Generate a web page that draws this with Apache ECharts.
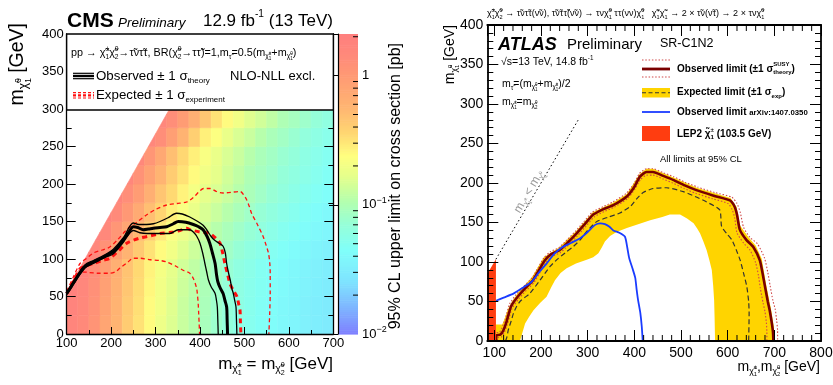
<!DOCTYPE html>
<html>
<head>
<meta charset="utf-8">
<script src="https://cdn.jsdelivr.net/npm/echarts@6.0.0/dist/echarts.min.js"></script>
<style>html,body{margin:0;padding:0;background:#fff;}#chart{width:833px;height:385px;}</style>
</head>
<body>
<div id="chart"></div>
<script>
// ================= CMS (left) data =================
const cmsCellXEdges = [100,125,150,175,200,225,250,275,300,325,350,375,400,425,450,475,500,525,550,575,600,625,650,675];
const cmsCellYEdges = [0,25,50,75,100,125,150,175,200,225,250,275];
const cmsCellSize = 25;
const cmsDiagAt100 = 57, cmsDiagSlope = 1.05;   // upper edge of the scanned region
const _ = null;
// 95% CL upper limit on cross section [pb], one row per mLSP bin
const xsecRow0  = [1.7,1.45,1.15,0.8,0.58,0.42,0.32,0.25,0.19,0.155,0.13,0.11,0.092,0.078,0.067,0.058,0.052,0.047,0.043,0.04,0.037,0.034,0.032,0.03];
const xsecRow1  = [1.8,1.5,1.2,0.84,0.6,0.43,0.33,0.25,0.2,0.16,0.13,0.11,0.094,0.08,0.068,0.06,0.053,0.048,0.044,0.04,0.037,0.034,0.032,0.03];
const xsecRow2  = [1.9,1.6,1.25,0.88,0.62,0.45,0.34,0.26,0.2,0.165,0.135,0.115,0.097,0.082,0.07,0.061,0.054,0.049,0.045,0.041,0.038,0.035,0.033,0.031];
const xsecRow3  = [2.0,1.7,1.3,0.92,0.65,0.47,0.35,0.27,0.21,0.17,0.14,0.12,0.1,0.085,0.073,0.063,0.056,0.05,0.046,0.042,0.039,0.036,0.034,0.032];
const xsecRow4  = [_,2.0,1.6,1.2,0.85,0.6,0.43,0.32,0.25,0.2,0.16,0.135,0.115,0.097,0.083,0.072,0.063,0.056,0.05,0.046,0.042,0.039,0.036,0.034];
const xsecRow5  = [_,_,1.9,1.5,1.1,0.78,0.55,0.4,0.3,0.23,0.19,0.16,0.13,0.11,0.095,0.082,0.072,0.064,0.057,0.051,0.047,0.043,0.04,0.037];
const xsecRow6  = [_,_,_,1.8,1.4,1.05,0.72,0.5,0.37,0.28,0.22,0.18,0.15,0.13,0.11,0.095,0.082,0.072,0.064,0.057,0.052,0.047,0.043,0.04];
const xsecRow7  = [_,_,_,_,1.7,1.3,0.95,0.65,0.46,0.35,0.27,0.21,0.17,0.15,0.13,0.11,0.095,0.083,0.073,0.065,0.058,0.052,0.048,0.044];
const xsecRow8  = [_,_,_,_,_,1.6,1.2,0.85,0.58,0.42,0.32,0.25,0.2,0.17,0.14,0.12,0.1,0.09,0.08,0.07,0.063,0.057,0.052,0.047];
const xsecRow9  = [_,_,_,_,_,_,1.5,1.1,0.75,0.5,0.36,0.28,0.22,0.18,0.15,0.13,0.11,0.095,0.085,0.075,0.068,0.06,0.055,0.05];
const xsecRow10 = [_,_,_,_,_,_,_,1.6,1.3,0.9,0.6,0.4,0.28,0.23,0.18,0.15,0.13,0.11,0.095,0.085,0.075,0.066,0.06,0.055];
const xsecRow11 = [_,_,_,_,_,_,_,_,1.6,1.3,0.95,0.65,0.45,0.32,0.25,0.2,0.16,0.14,0.12,0.1,0.09,0.08,0.07,0.063];
const xsecRows = [xsecRow0,xsecRow1,xsecRow2,xsecRow3,xsecRow4,xsecRow5,xsecRow6,xsecRow7,xsecRow8,xsecRow9,xsecRow10,xsecRow11];

const cmsObs = [[100,54],[108,61],[115,68],[128,80],[141,90],[160,96],[178,101],[190,105],[205,110],[216,117],[227,125],[240,136],[250,143],[260,142],[272,139],[284,140],[295,141],[310,142],[325,143],[340,147],[351,150],[368,149],[385,146],[397,143],[407,139],[416,130],[422,121],[428,108],[434,94],[437,80],[440,70],[445,62],[452,54],[456,45],[460,36],[461,20],[462,0]];
const cmsObsUp = [[100,56],[115,70],[141,92],[160,98],[190,107],[205,113],[227,128],[250,148],[262,146],[280,146],[295,147],[310,150],[328,155],[347,161],[360,160],[377,156],[395,150],[407,145],[415,139],[425,130],[433,125],[443,121],[452,117],[457,108],[460,94],[464,82],[468,72],[472,60],[475,54],[478,45],[481,36],[482,20],[483,0]];
const cmsObsDown = [[100,52],[115,66],[141,88],[160,94],[190,103],[205,107],[227,122],[250,138],[265,135],[280,134],[300,134],[332,134],[351,139],[365,139],[377,139],[385,136],[393,130],[400,121],[406,108],[411,94],[415,83],[419,72],[425,63],[434,54],[437,45],[439,36],[440,20],[441,0]];
const cmsExp = [[100,54],[115,70],[130,87],[145,91],[160,94],[180,98],[197,101],[215,110],[235,121],[250,125],[265,128],[290,131],[310,134],[340,136],[355,138],[370,141],[378,139],[400,136],[422,134],[435,128],[445,121],[451,108],[456,94],[462,80],[467,68],[475,58],[483,50],[487,40],[490,32],[491,15],[492,0]];
const cmsExpUp = [[100,57],[115,76],[130,94],[145,101],[160,108],[180,112],[197,116],[215,126],[235,139],[258,149],[280,159],[300,166],[325,172],[348,174],[370,176],[385,182],[400,191],[408,194],[423,194],[437,190],[452,188],[470,189],[490,190],[500,184],[505,179],[511,170],[516,161],[530,145],[542,130],[549,118],[554,108],[557,95],[558,81],[558,54],[557,30],[555,0]];
const cmsExpDown = [[100,54],[110,66],[120,76],[134,83],[150,82],[170,81],[197,81],[210,83],[220,88],[238,96],[250,101],[265,101],[288,99],[310,98],[325,96],[347,90],[362,85],[377,81],[385,74],[392,62],[394,54],[396,40],[397,28],[398,15],[399,0]];
const colorbarMin = 0.01, colorbarMax = 2.1;
const colorbarMinorTicks = [0.02,0.03,0.04,0.05,0.06,0.07,0.08,0.09,0.2,0.3,0.4,0.5,0.6,0.7,0.8,0.9,2];

// ================= ATLAS (right) data =================
const atlasXMin = 85, atlasXMax = 800;
const lepLimit = 103.5;
const diagEnd = 282;
const atlasMinorX = [120,140,160,180,220,240,260,280,320,340,360,380,420,440,460,480,520,540,560,580,620,640,660,680,720,740,760,780];
const atlasObs = [[104,0],[104,7],[113,8],[119,13],[126,24],[136,44],[150,56],[165,66],[183,77],[196,90],[208,102],[222,110],[240,115],[258,125],[276,136],[294,148],[312,160],[334,167],[355,172],[384,183],[400,195],[412,208],[426,214],[440,214],[462,209],[483,204],[508,197],[533,191],[570,184],[605,178],[615,170],[620,160],[626,141],[640,128],[655,119],[669,102],[675,85],[680,69],[686,50],[690,39],[694,25],[697,12],[698,0]];
const atlasObsUp = [[101,0],[101,10],[111,11],[116,16],[123,27],[133,47],[147,59],[163,69],[181,80],[194,93],[206,105],[220,113],[238,118],[256,128],[274,139],[292,151],[310,163],[333,170],[354,176],[383,187],[399,199],[411,212],[426,218],[440,218],[462,213],[484,208],[509,201],[535,195],[572,188],[609,182],[620,174],[627,163],[634,144],[648,131],[664,123],[679,105],[686,87],[691,70],[697,51],[702,40],[705,26],[707,13],[707,0]];
const atlasObsDown = [[107,0],[107,4],[115,5],[121,10],[128,21],[138,41],[152,53],[167,63],[185,74],[198,87],[210,99],[224,107],[242,112],[260,122],[278,133],[296,145],[314,157],[336,164],[356,169],[385,180],[401,192],[413,204],[426,210],[440,210],[462,205],[482,200],[507,193],[531,187],[568,180],[601,174],[610,166],[615,156],[620,137],[634,124],[648,115],[660,99],[666,83],[670,67],[676,48],[680,37],[683,23],[684,11],[684,0]];
const atlasExp = [[124,0],[127,5],[130,14],[136,25],[141,35],[148,44],[155,50],[165,55],[176,60],[198,77],[219,94],[236,104],[255,113],[270,120],[284,128],[300,140],[319,151],[345,157],[369,162],[391,170],[405,180],[419,188],[440,193],[469,194],[505,189],[530,183],[555,176],[583,166],[587,145],[598,136],[609,128],[618,116],[627,102],[634,86],[641,69],[645,50],[646,35],[645,0]];
const atlasBandOuter = [[103.5,0],[103.5,21],[117,21],[122,28],[129,40],[139,51],[152,62],[181,81],[206,106],[238,118],[275,139],[311,163],[354,175],[384,186],[411,211],[426,218],[440,218],[484,207],[534,194],[606,181],[619,170],[627,146],[645,131],[660,121],[673,104],[683,70],[693,40],[699,18],[700,0]];
const atlasBandInner = [[155,0],[160,10],[166,22],[175,31],[184,39],[198,48],[212,56],[222,68],[230,77],[242,86],[255,92],[275,98],[298,103],[312,106],[323,111],[330,118],[337,126],[348,133],[362,138],[384,143],[405,147],[434,153],[460,157],[476,160],[498,160],[513,155],[527,149],[535,142],[541,136],[548,126],[555,115],[561,102],[566,90],[569,70],[571,52],[572,30],[573,0]];
const atlasRun1 = [[103.5,51],[120,55],[141,60],[160,67],[180,75],[196,87],[212,98],[228,110],[244,118],[264,124],[284,130],[300,138],[316,147],[327,149],[337,148],[346,145],[355,140],[368,137],[380,132],[385,118],[389,105],[396,92],[402,80],[405,65],[408,52],[413,35],[416,18],[418,0]];

// ================= helpers =================
const FF = '"Liberation Sans", Arial, Helvetica, sans-serif';
const mctx = document.createElement('canvas').getContext('2d');
function fnt(sz, o) { return (o.italic ? 'italic ' : '') + (o.bold ? 'bold ' : '') + sz.toFixed(2) + 'px ' + FF; }
function tw(t, sz, o) { mctx.font = fnt(sz, o); return mctx.measureText(t).width; }
function tex(parts, o) {
  const S = o.size, kids = [], z = o.z || 100;
  let cx = 0;
  const put = (p, x) => {
    const sz = S * (p.s || 1);
    kids.push({type:'text', x: x, y: (p.dy || 0) * S, z: z, silent: true,
      style: {text: p.t, font: fnt(sz, o), fill: o.color || '#000', align: 'left', verticalAlign: 'middle', textAlign: 'left', textVerticalAlign: 'middle'}});
    return tw(p.t, sz, o);
  };
  for (const p0 of parts) {
    if (typeof p0 === 'string') cx += put({t: p0}, cx);
    else if (p0.stack) { let w = 0; for (const q of p0.stack) w = Math.max(w, put(q, cx)); cx += w; }
    else cx += put(p0, cx);
  }
  const sh = o.align === 'right' ? -cx : (o.align === 'center' ? -cx / 2 : 0);
  kids.forEach(k => { k.x += sh; });
  return {type: 'group', x: o.x, y: o.y, rotation: o.rot || 0, z: z, silent: true, children: kids};
}
const CHI = 'χ\u0303', TAU = 'τ\u0303';
const chiM = (sup, sub) => [{t: CHI}, {stack: [{t: sup, s: 0.62, dy: -0.38}, {t: sub, s: 0.62, dy: 0.36}]}];
const chiS = (sup, sub) => [{t: CHI, s: 0.62, dy: 0.3}, {stack: [{t: sup, s: 0.42, dy: 0.06}, {t: sub, s: 0.42, dy: 0.56}]}];
const sup = t => ({t: t, s: 0.6, dy: -0.38});
const sub = t => ({t: t, s: 0.6, dy: 0.38});

const paletteStops = [[-2.0,'#7f7fff'],[-1.8,'#7fb4ff'],[-1.6,'#7fe2ff'],[-1.35,'#80fffa'],[-1.15,'#96ffd8'],[-0.97,'#b4ffae'],[-0.78,'#e4ff8c'],[-0.62,'#ffff80'],[-0.45,'#ffd872'],[-0.25,'#ffb672'],[0.0,'#ff9a74'],[0.15,'#ff8a7a'],[0.33,'#ff7f7f']];
function hex2rgb(h) { return [parseInt(h.substr(1,2),16), parseInt(h.substr(3,2),16), parseInt(h.substr(5,2),16)]; }
function heatColor(v) {
  const l = Math.log10(v);
  if (l <= paletteStops[0][0]) return paletteStops[0][1];
  for (let k = 1; k < paletteStops.length; k++) {
    if (l <= paletteStops[k][0]) {
      const a = paletteStops[k-1], b = paletteStops[k], f = (l - a[0]) / (b[0] - a[0]);
      const ca = hex2rgb(a[1]), cb = hex2rgb(b[1]);
      return 'rgb(' + ca.map((c, n) => Math.round(c + (cb[n] - c) * f)).join(',') + ')';
    }
  }
  return paletteStops[paletteStops.length - 1][1];
}
function clipDiag(poly) { // keep the part below the scanned-region edge
  const f = p => cmsDiagAt100 + cmsDiagSlope * (p[0] - 100) - p[1];
  const out = [];
  for (let k = 0; k < poly.length; k++) {
    const a = poly[k], b = poly[(k + 1) % poly.length], fa = f(a), fb = f(b);
    if (fa >= 0) out.push(a);
    if ((fa >= 0) !== (fb >= 0)) { const t = fa / (fa - fb); out.push([a[0] + t * (b[0] - a[0]), a[1] + t * (b[1] - a[1])]); }
  }
  return out;
}

const cmsCells = [];
xsecRows.forEach((row, j) => row.forEach((v, i) => { if (v != null) cmsCells.push([cmsCellXEdges[i], cmsCellYEdges[j], v]); }));
const colorbarLevels = [];
{ const l0 = Math.log10(colorbarMin), l1 = Math.log10(colorbarMax), n = 160;
  for (let k = 0; k < n; k++) colorbarLevels.push([0, Math.pow(10, l0 + (l1 - l0) * k / n), Math.pow(10, l0 + (l1 - l0) * (k + 1) / n)]); }

// ================= axes =================
function valAxis(o) {
  const base = {type: 'value', z: 10, splitLine: {show: false},
    axisLine: {show: true, onZero: false, lineStyle: {color: '#000', width: 1.3}},
    axisTick: {show: true, inside: true, length: o.tickLen || 9, lineStyle: {color: '#000', width: 1}},
    minorTick: {show: !!o.minor, splitNumber: o.minor || 2, length: o.minorLen || 5, lineStyle: {color: '#000', width: 1}},
    axisLabel: {show: o.labels !== false, color: '#000', fontSize: o.fontSize || 13, fontFamily: FF, margin: o.margin || 3,
      formatter: o.formatter},
    splitArea: {show: false}};
  ['gridIndex','min','max','interval','position','splitNumber','minInterval','maxInterval'].forEach(k => { if (o[k] !== undefined) base[k] = o[k]; });
  return base;
}

const xAxes = [
  valAxis({gridIndex: 0, min: 100, max: 700, interval: 100, minor: 2, tickLen: 7, minorLen: 4, margin: 3}),
  {type: 'value', gridIndex: 1, min: 0, max: 1, show: false},
  valAxis({gridIndex: 2, min: atlasXMin, max: atlasXMax, splitNumber: 7, minInterval: 100, maxInterval: 100, tickLen: 11, fontSize: 14, margin: 5,
    formatter: v => (Math.round(v) % 100 === 0 ? String(Math.round(v)) : '')}),
  valAxis({gridIndex: 2, min: atlasXMin, max: atlasXMax, splitNumber: 7, minInterval: 100, maxInterval: 100, tickLen: 11, position: 'top', labels: false})
];
xAxes[2].axisLine.lineStyle.width = 1.8; xAxes[3].axisLine.lineStyle.width = 1.8;

const yAxes = [
  valAxis({gridIndex: 0, min: 0, max: 400, interval: 50, minor: 2, tickLen: 9, minorLen: 5, margin: 3}),
  valAxis({gridIndex: 0, min: 0, max: 400, interval: 50, minor: 2, tickLen: 9, minorLen: 5, position: 'right', labels: false}),
  {type: 'log', logBase: 10, gridIndex: 1, min: colorbarMin, max: colorbarMax, position: 'right', z: 10,
    splitLine: {show: false}, minorTick: {show: false},
    axisLine: {show: true, lineStyle: {color: '#000', width: 1.2}},
    axisTick: {show: true, inside: true, length: 9, lineStyle: {color: '#000', width: 1}},
    axisLabel: {color: '#000', fontSize: 13, fontFamily: FF, margin: 4,
      formatter: v => { const l = Math.round(Math.log10(v) * 1000) / 1000; if (l === 0) return '1'; if (Number.isInteger(l)) return '10{s|' + '\u2212' + Math.abs(l) + '}'; return ''; },
      rich: {s: {fontSize: 9, fontFamily: FF, padding: [0, 0, 8, 0], color: '#000'}}}},
  valAxis({gridIndex: 2, min: 0, max: 400, interval: 50, minor: 5, tickLen: 11, minorLen: 6, fontSize: 14, margin: 4}),
  valAxis({gridIndex: 2, min: 0, max: 400, interval: 50, minor: 5, tickLen: 11, minorLen: 6, position: 'right', labels: false})
];
yAxes[3].axisLine.lineStyle.width = 1.8; yAxes[4].axisLine.lineStyle.width = 1.8;

function lineS(data, xi, yi, color, width, type, z, smooth) {
  return {type: 'line', xAxisIndex: xi, yAxisIndex: yi, data: data, showSymbol: false, symbol: 'none',
    smooth: smooth === undefined ? 0.3 : smooth, lineStyle: {color: color, width: width, type: type || 'solid'}, z: z || 3, silent: true};
}

const series = [
  {type: 'custom', xAxisIndex: 0, yAxisIndex: 0, data: cmsCells, encode: {x: 0, y: 1}, z: 1, clip: true, silent: true,
    renderItem: (p, api) => {
      const x0 = api.value(0), y0 = api.value(1), v = api.value(2);
      const poly = clipDiag([[x0, y0], [x0 + cmsCellSize, y0], [x0 + cmsCellSize, y0 + cmsCellSize], [x0, y0 + cmsCellSize]]);
      if (poly.length < 3) return null;
      const c = heatColor(v);
      return {type: 'polygon', shape: {points: poly.map(q => api.coord(q))}, style: {fill: c, stroke: c, lineWidth: 0.6}};
    }},
  {type: 'custom', xAxisIndex: 1, yAxisIndex: 2, data: colorbarLevels, encode: {x: 0, y: [1, 2]}, z: 1, silent: true,
    renderItem: (p, api) => {
      const a = api.coord([0, api.value(1)]), b = api.coord([1, api.value(2)]);
      const c = heatColor(Math.sqrt(api.value(1) * api.value(2)));
      return {type: 'rect', shape: {x: a[0], y: b[1], width: b[0] - a[0], height: a[1] - b[1] + 0.6}, style: {fill: c}};
    }},
  {type: 'custom', xAxisIndex: 1, yAxisIndex: 2, data: colorbarMinorTicks.map(v => [1, v]), encode: {x: 0, y: 1}, z: 5, silent: true,
    renderItem: (p, api) => { const c = api.coord([1, api.value(1)]); return {type: 'line', shape: {x1: c[0], y1: c[1], x2: c[0] - 5, y2: c[1]}, style: {stroke: '#000', lineWidth: 1}}; }},
  lineS(cmsExpUp, 0, 0, '#ff1010', 1.3, [4, 3], 3),
  lineS(cmsExpDown, 0, 0, '#ff1010', 1.3, [4, 3], 3),
  lineS(cmsExp, 0, 0, '#ff1010', 3, [5, 4], 3),
  lineS(cmsObsUp, 0, 0, '#000', 1.3, 'solid', 4),
  lineS(cmsObsDown, 0, 0, '#000', 1.3, 'solid', 4),
  lineS(cmsObs, 0, 0, '#000', 3, 'solid', 4),
  // ATLAS
  {type: 'custom', xAxisIndex: 2, yAxisIndex: 3, data: [[atlasXMin, 0]], encode: {x: 0, y: 1}, z: 1, clip: true, silent: true,
    renderItem: (p, api) => ({type: 'polygon', shape: {points: atlasBandOuter.concat(atlasBandInner.slice().reverse()).map(q => api.coord(q))}, style: {fill: '#ffd400'}})},
  {type: 'custom', xAxisIndex: 2, yAxisIndex: 3, data: [[atlasXMin, 0]], encode: {x: 0, y: 1}, z: 6, clip: true, silent: true,
    renderItem: (p, api) => ({type: 'polygon', shape: {points: [[atlasXMin, 0], [lepLimit, 0], [lepLimit, lepLimit], [atlasXMin, atlasXMin]].map(q => api.coord(q))}, style: {fill: '#ff3d10'}})},
  {type: 'custom', xAxisIndex: 2, yAxisIndex: 3, data: atlasMinorX.map(v => [v, 0]), encode: {x: 0, y: 1}, z: 11, silent: true,
    renderItem: (p, api) => { const b = api.coord([api.value(0), 0]), t = api.coord([api.value(0), 400]);
      return {type: 'group', children: [
        {type: 'line', shape: {x1: b[0], y1: b[1], x2: b[0], y2: b[1] - 6}, style: {stroke: '#000', lineWidth: 1}},
        {type: 'line', shape: {x1: t[0], y1: t[1], x2: t[0], y2: t[1] + 6}, style: {stroke: '#000', lineWidth: 1}}]}; }},
  lineS(atlasExp, 2, 3, '#333', 1.2, [5, 3], 3, 0.2),
  lineS(atlasObsUp, 2, 3, '#d04848', 1.1, [1.5, 1.8], 3, 0.2),
  lineS(atlasObsDown, 2, 3, '#d04848', 1.1, [1.5, 1.8], 3, 0.2),
  lineS(atlasObs, 2, 3, '#7a0000', 2.6, 'solid', 4, 0.2),
  lineS(atlasRun1, 2, 3, '#1a3cff', 1.8, 'solid', 5, 0.2),
  lineS([[lepLimit, lepLimit], [diagEnd, diagEnd]], 2, 3, '#000', 1, [1.5, 2.5], 5, false)
];

// ================= texts / decorations =================
const G = [];
// CMS header
G.push(tex(['CMS'], {x: 67, y: 21, size: 21, bold: true}));
G.push(tex(['Preliminary'], {x: 118, y: 23, size: 13.5, italic: true}));
G.push(tex(['12.9 fb', sup('-1'), ' (13 TeV)'], {x: 333, y: 21, size: 17, align: 'right'}));
// CMS legend box
G.push({type: 'rect', z: 50, silent: true, shape: {x: 66.7, y: 34, width: 266.6, height: 76}, style: {fill: '#fff', stroke: '#000', lineWidth: 1.3}});
G.push(tex(['pp → ', ...chiM('±', '1'), ...chiM('0', '2'), '→' + TAU + 'ν' + TAU + 'τ, BR(', ...chiM('0', '2'), '→τ' + TAU + ')=1,m', {t: TAU, s: 0.62, dy: 0.36}, '=0.5(m', ...chiS('±', '1'), '+m', ...chiS('0', '1'), ')'],
  {x: 71, y: 53, size: 10.8, z: 60}));
[[73.3, 1.2], [76, 2.4], [78.7, 1.2]].forEach(a => G.push({type: 'line', z: 60, silent: true, shape: {x1: 73, y1: a[0], x2: 94, y2: a[0]}, style: {stroke: '#000', lineWidth: a[1]}}));
[[92.7, 1.2], [95.3, 2.2], [98, 1.2]].forEach(a => G.push({type: 'line', z: 60, silent: true, shape: {x1: 73, y1: a[0], x2: 94, y2: a[0]}, style: {stroke: '#ff1010', lineWidth: a[1], lineDash: [3, 2]}}));
G.push(tex(['Observed ± 1 σ', sub('theory')], {x: 96, y: 76, size: 13.3, z: 60}));
G.push(tex(['NLO-NLL excl.'], {x: 230, y: 76, size: 13, z: 60}));
G.push(tex(['Expected ± 1 σ', sub('experiment')], {x: 96, y: 95, size: 13.3, z: 60}));
// CMS axis titles
G.push(tex(['m', ...chiS('0', '1'), ' [GeV]'], {x: 18, y: 23, size: 19.5, rot: Math.PI / 2, align: 'right'}));
G.push(tex(['m', ...chiS('±', '1'), ' = m', ...chiS('0', '2'), ' [GeV]'], {x: 333, y: 364, size: 17, align: 'right'}));
G.push(tex(['95% CL upper limit on cross section [pb]'], {x: 396, y: 43, size: 16, rot: Math.PI / 2, align: 'right'}));

// ATLAS header texts
G.push(tex([...chiM('±', '1'), ...chiM('0', '2'), ' → ' + TAU + 'ν' + TAU + 'τ(ν\u0303ν), ' + TAU + 'ν\u0303τ' + TAU + '(ν\u0303ν) → τν', ...chiM('0', '1'), ' ττ(νν)', ...chiM('0', '1'), '   ', ...chiM('+', '1'), ...chiM('−', '1'), ' → 2 × ' + TAU + 'ν(ν\u0303τ) → 2 × τν', ...chiM('0', '1')],
  {x: 487, y: 14, size: 9}));
G.push(tex(['ATLAS'], {x: 498, y: 45, size: 18, bold: true, italic: true}));
G.push(tex(['Preliminary'], {x: 567, y: 45, size: 15}));
G.push(tex(['SR-C1N2'], {x: 660, y: 44, size: 12.5}));
G.push(tex(['√s=13 TeV, 14.8 fb', sup('-1')], {x: 501, y: 62, size: 10.5}));
G.push(tex(['m', {t: TAU, s: 0.62, dy: 0.36}, '=(m', ...chiS('0', '1'), '+m', ...chiS('±', '1'), ')/2'], {x: 502, y: 84, size: 10.5}));
G.push(tex(['m', ...chiS('±', '1'), '=m', ...chiS('0', '2')], {x: 502, y: 102, size: 10.5}));
// ATLAS legend
G.push({type: 'line', z: 60, silent: true, shape: {x1: 642, y1: 60, x2: 670, y2: 60}, style: {stroke: '#d04848', lineWidth: 1.1, lineDash: [1.5, 1.8]}});
G.push({type: 'line', z: 60, silent: true, shape: {x1: 642, y1: 69, x2: 670, y2: 69}, style: {stroke: '#7a0000', lineWidth: 2.8}});
G.push({type: 'line', z: 60, silent: true, shape: {x1: 642, y1: 77, x2: 670, y2: 77}, style: {stroke: '#d04848', lineWidth: 1.1, lineDash: [1.5, 1.8]}});
G.push({type: 'rect', z: 60, silent: true, shape: {x: 642, y: 88, width: 28, height: 9.5}, style: {fill: '#ffd400'}});
G.push({type: 'line', z: 61, silent: true, shape: {x1: 642, y1: 92.7, x2: 670, y2: 92.7}, style: {stroke: '#333', lineWidth: 1.1, lineDash: [4, 2.5]}});
G.push({type: 'line', z: 60, silent: true, shape: {x1: 642, y1: 112, x2: 670, y2: 112}, style: {stroke: '#1a3cff', lineWidth: 1.8}});
G.push({type: 'rect', z: 60, silent: true, shape: {x: 642, y: 126, width: 28, height: 15}, style: {fill: '#ff3d10'}});
G.push(tex(['Observed limit (±1 σ', {stack: [{t: 'SUSY', s: 0.6, dy: -0.42}, {t: 'theory', s: 0.6, dy: 0.38}]}, ')'], {x: 677, y: 69, size: 10, bold: true}));
G.push(tex(['Expected limit (±1 σ', sub('exp'), ')'], {x: 677, y: 92.5, size: 10, bold: true}));
G.push(tex(['Observed limit ', {t: 'arXiv:1407.0350', s: 0.78, dy: 0.08}], {x: 677, y: 112, size: 10, bold: true}));
G.push(tex(['LEP2 ', ...chiM('±', '1'), ' (103.5 GeV)'], {x: 677, y: 134, size: 10, bold: true}));
G.push(tex(['All limits at 95% CL'], {x: 660, y: 159, size: 9.5}));
// ATLAS axis titles
G.push(tex(['m', ...chiS('±', '1'), ',m', ...chiS('0', '2'), ' [GeV]'], {x: 820, y: 367, size: 14, align: 'right'}));
G.push(tex(['m', ...chiS('0', '1'), ' [GeV]'], {x: 450, y: 25, size: 14, rot: Math.PI / 2, align: 'right'}));
G.push(tex(['m', ...chiS('±', '1'), ' < m', ...chiS('0', '1')], {x: 517, y: 212, size: 12, rot: Math.atan2(0.79, 0.4667), color: '#9a9a9a', z: 20}));

const option = {
  animation: false,
  backgroundColor: '#fff',
  textStyle: {fontFamily: FF},
  grid: [
    {left: 66.7, top: 34, width: 266.6, height: 300, outerBoundsMode: 'none'},
    {left: 338, top: 34, width: 20, height: 300, outerBoundsMode: 'none'},
    {left: 487.3, top: 25, width: 333.7, height: 316, outerBoundsMode: 'none'}
  ],
  xAxis: xAxes,
  yAxis: yAxes,
  series: series,
  graphic: {elements: G}
};
const chart = echarts.init(document.getElementById('chart'), null, {renderer: 'canvas', width: 833, height: 385});
chart.setOption(option);
</script>
</body>
</html>
